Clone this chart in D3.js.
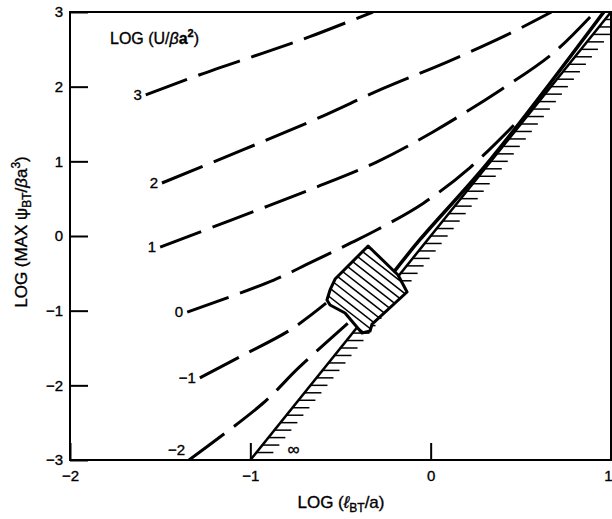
<!DOCTYPE html>
<html>
<head>
<meta charset="utf-8">
<script src="https://cdn.jsdelivr.net/npm/d3@7"></script>
<style>
  body { margin: 0; background: #fff; }
  svg { display: block; font-family: "Liberation Sans", Arial, Helvetica, sans-serif; }
  svg text { stroke: #000; stroke-width: 0.35px; }
</style>
</head>
<body>
<svg id="chart" width="612" height="519"></svg>
<script>
// axis ticks
const xTicks = [-2, -1, 0, 1];
const yTicks = [-3, -2, -1, 0, 1, 2, 3];

// contour levels of LOG(U/βa²), one dashed curve each (LOG ℓ, LOG max ψ)
const levels = ['3', '2', '1', '0', '−1', '−2'];
const curve3 = [[-1.58, 1.89], [-1.28, 2.16], [-0.93, 2.45], [-0.67, 2.67], [-0.32, 3.0]];
const curve2 = [[-1.49, 0.71], [-0.67, 1.53], [-0.26, 1.98], [0.09, 2.33], [0.42, 2.69], [0.67, 3.0]];
const curve1 = [[-1.50, -0.15], [-1.11, 0.21], [-0.67, 0.62], [-0.30, 0.99], [0.01, 1.39], [0.39, 1.96], [0.68, 2.45], [0.91, 3.0]];
const curve0 = [[-1.35, -1.02], [-0.87, -0.59], [-0.67, -0.36], [-0.44, -0.09], [-0.30, 0.08], [-0.04, 0.44], [0.22, 0.92], [0.50, 1.58]];
const curveM1 = [[-1.28, -1.90], [-1.06, -1.62], [-0.78, -1.26], [-0.58, -0.90]];
const curveM2 = [[-1.34, -3.0], [-0.93, -2.24], [-0.73, -1.76], [-0.46, -1.17]];
const curves = [curve3, curve2, curve1, curve0, curveM1, curveM2];

// solid curve leaving the hatched region towards the top right
const limitCurve = [[-0.21, -0.50], [-0.06, -0.05], [0.33, 1.02], [0.96, 3.0]];
// U = infinity boundary, hatched on its right side
const boundary = [[-1, -3], [1, 3]];
// hatched region
const boxOutline = [[-0.347, -0.134], [-0.181, -0.522], [-0.131, -0.750], [-0.325, -1.179], [-0.336, -1.272],
  [-0.381, -1.299], [-0.475, -1.031], [-0.558, -0.924], [-0.575, -0.857], [-0.558, -0.723], [-0.530, -0.576]];

const svg = d3.select('#chart');
const x = d3.scaleLinear().domain([-2, 1]).range([70, 611]);
const y = d3.scaleLinear().domain([-3, 3]).range([460, 12]);

svg.append('defs').append('clipPath').attr('id', 'plot')
  .append('rect')
  .attr('x', x(-2)).attr('y', y(3))
  .attr('width', x(1) - x(-2)).attr('height', y(-3) - y(3));

const fmt = d => d3.format('')(d).replace('-', '−');

// axes, ticks pointing inwards
const yAxis = svg.append('g')
  .attr('transform', `translate(${x(-2)},0)`)
  .call(d3.axisLeft(y).tickValues(yTicks).tickSizeInner(-18).tickSizeOuter(0).tickPadding(7).tickFormat(fmt));
const xAxis = svg.append('g')
  .attr('transform', `translate(0,${y(-3)})`)
  .call(d3.axisBottom(x).tickValues(xTicks).tickSizeInner(-17).tickSizeOuter(0).tickPadding(10).tickFormat(fmt));
[xAxis, yAxis].forEach(g => {
  g.select('.domain').remove();
  g.selectAll('line').attr('stroke', '#000').attr('stroke-width', 2);
  g.selectAll('text').attr('fill', '#000').attr('font-size', 15).attr('font-family', null);
});
// last x label sits on the page edge
xAxis.selectAll('.tick text').filter(d => d === 1).attr('text-anchor', 'end').attr('dx', 1);

svg.append('rect')
  .attr('x', x(-2)).attr('y', y(3))
  .attr('width', x(1) - x(-2)).attr('height', y(-3) - y(3))
  .attr('fill', 'none').attr('stroke', '#000').attr('stroke-width', 2);

const plot = svg.append('g').attr('clip-path', 'url(#plot)');
const line = d3.line().x(d => x(d[0])).y(d => y(d[1])).curve(d3.curveCatmullRom);

// boundary and its hatching
const yOnBoundary = d3.scaleLinear().domain([boundary[0][1], boundary[1][1]]).range([boundary[0][0], boundary[1][0]]);
plot.append('g').selectAll('line')
  .data(d3.range(-29, 30).map(i => i / 10))
  .join('line')
  .attr('x1', d => x(yOnBoundary(d))).attr('x2', d => x(yOnBoundary(d)) + 17)
  .attr('y1', d => y(d)).attr('y2', d => y(d))
  .attr('stroke', '#000').attr('stroke-width', 1.5);
plot.append('path').datum(boundary)
  .attr('d', d3.line().x(d => x(d[0])).y(d => y(d[1])))
  .attr('fill', 'none').attr('stroke', '#000').attr('stroke-width', 2.5);

// dashed contour curves
plot.selectAll('path.contour')
  .data(curves)
  .join('path')
  .attr('class', 'contour')
  .attr('d', line)
  .attr('fill', 'none').attr('stroke', '#000')
  .attr('stroke-width', 3).attr('stroke-dasharray', '44,12');

plot.append('path').datum(limitCurve)
  .attr('d', line)
  .attr('fill', 'none').attr('stroke', '#000').attr('stroke-width', 3.5);

// hatched region
const boxPts = boxOutline.map(d => [x(d[0]), y(d[1])]);
svg.select('defs').append('clipPath').attr('id', 'box')
  .append('polygon').attr('points', boxPts.join(' '));
plot.append('polygon').attr('points', boxPts.join(' ')).attr('fill', '#fff');
const c = d3.polygonCentroid(boxPts);
const dir = [0.788, 0.615], perp = [-0.615, 0.788];
plot.append('g').attr('clip-path', 'url(#box)').selectAll('line')
  .data(d3.range(-6, 7))
  .join('line')
  .attr('x1', k => c[0] + perp[0] * k * 7 - dir[0] * 70)
  .attr('y1', k => c[1] + perp[1] * k * 7 - dir[1] * 70)
  .attr('x2', k => c[0] + perp[0] * k * 7 + dir[0] * 70)
  .attr('y2', k => c[1] + perp[1] * k * 7 + dir[1] * 70)
  .attr('stroke', '#000').attr('stroke-width', 1.5);
plot.append('polygon').attr('points', boxPts.join(' '))
  .attr('fill', 'none').attr('stroke', '#000').attr('stroke-width', 3).attr('stroke-linejoin', 'round');

// curve labels at the left end of each curve
svg.append('g').selectAll('text')
  .data(curves)
  .join('text')
  .attr('x', d => x(d[0][0]) - 4)
  .attr('y', d => y(d[0][1]) - (d[0][1] <= -3 ? 10 : 0))
  .attr('dy', '0.35em')
  .attr('text-anchor', 'end')
  .attr('font-size', 15)
  .text((d, i) => levels[i]);

svg.append('text')
  .attr('x', x(-0.76)).attr('y', y(-2.85)).attr('dy', '0.35em')
  .attr('text-anchor', 'middle').attr('font-size', 17)
  .text('∞');

// titles
const tl = svg.append('text').attr('x', 110).attr('y', 44).attr('font-size', 16);
tl.append('tspan').text('LOG (U/');
tl.append('tspan').attr('font-style', 'italic').text('β');
tl.append('tspan').attr('font-weight', 'bold').text('a');
tl.append('tspan').attr('font-size', 11).attr('font-weight', 'bold').attr('dy', -7).text('2');
tl.append('tspan').attr('dy', 7).text(')');

const xl = svg.append('text').attr('x', 341).attr('y', 508).attr('text-anchor', 'middle').attr('font-size', 17);
xl.append('tspan').text('LOG (');
xl.append('tspan').attr('font-style', 'italic').text('ℓ');
xl.append('tspan').attr('font-size', 12).attr('dy', 4).text('BT');
xl.append('tspan').attr('dy', -4).text('/a)');

const yl = svg.append('text')
  .attr('transform', 'translate(27,232) rotate(-90)')
  .attr('text-anchor', 'middle').attr('font-size', 17);
yl.append('tspan').text('LOG (MAX ψ');
yl.append('tspan').attr('font-size', 12).attr('dy', 4).text('BT');
yl.append('tspan').attr('dy', -4).text('/');
yl.append('tspan').attr('font-style', 'italic').text('β');
yl.append('tspan').text('a');
yl.append('tspan').attr('font-size', 12).attr('dy', -7).text('3');
yl.append('tspan').attr('dy', 7).text(')');
</script>
</body>
</html>
